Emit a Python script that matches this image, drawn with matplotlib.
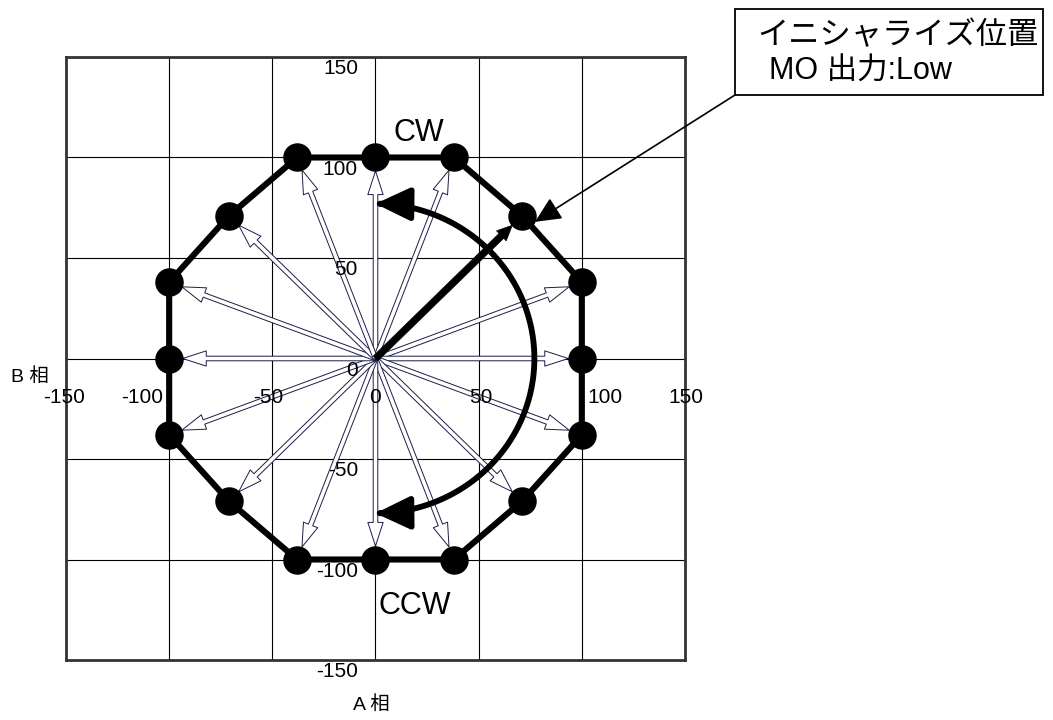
import numpy as np
import matplotlib.pyplot as plt
from matplotlib.patches import FancyArrowPatch, Rectangle
from matplotlib.path import Path

plt.rcParams['font.family'] = ['Liberation Sans', 'Noto Sans CJK JP', 'DejaVu Sans']

# ステップ位置 (A相, B相)
pos_a = [0, 38, 71, 100, 100, 100, 71, 38, 0, -38, -71, -100, -100, -100, -71, -38]
pos_b = [100, 100, 71, 38, 0, -38, -71, -100, -100, -100, -71, -38, 0, 38, 71, 100]
init_idx = 2            # イニシャライズ位置
ticks = [-150, -100, -50, 0, 50, 100, 150]
arc_r = 77

W, H = 1053, 720
fig = plt.figure(figsize=(W / 100, H / 100), dpi=100)
ax = fig.add_axes([66 / W, 1 - 660 / H, 619 / W, 603 / H])
ax.set_xlim(-150, 150)
ax.set_ylim(-150, 150)
ax.set_xticks([])
ax.set_yticks([])
for s in ax.spines.values():
    s.set_linewidth(2)
    s.set_color('#333333')

# グリッド
for t in ticks[1:-1]:
    ax.axvline(t, color='black', lw=0.8, zorder=1)
    ax.axhline(t, color='black', lw=0.8, zorder=1)

# 目盛ラベル (軸の交点付近に配置)
x_lab_pos = [-151, -113, -52, 0, 51, 111, 150.5]
for t, xp in zip(ticks, x_lab_pos):
    ax.text(xp, -19.5, str(t), fontsize=15, ha='center', va='center', zorder=6)
for t in ticks:
    yp = t - 1 if t < 150 else 149
    ax.text(-8.5, yp, str(t), fontsize=15, ha='right', va='top', zorder=6)

# 原点からの細い矢印
rad_pt = 9.7
for i, (a, b) in enumerate(zip(pos_a, pos_b)):
    if i == init_idx:
        continue
    arr = FancyArrowPatch((0, 0), (a, b), shrinkA=0, shrinkB=rad_pt,
                          arrowstyle='simple,head_length=17,head_width=11,tail_width=3.3',
                          mutation_scale=1, fc='white', ec='#1c1c48', lw=0.7, zorder=3)
    ax.add_patch(arr)

# 外周
ax.plot(pos_a + pos_a[:1], pos_b + pos_b[:1], color='black', lw=4.4, zorder=4,
        solid_joinstyle='miter')
ax.plot(pos_a, pos_b, linestyle='', marker='o', markersize=19.5, color='black', zorder=5)

# イニシャライズ位置への太い矢印
thick = FancyArrowPatch((0, 0), (pos_a[init_idx], pos_b[init_idx]), shrinkA=0, shrinkB=rad_pt,
                        arrowstyle='simple,head_length=11,head_width=10,tail_width=4.8',
                        mutation_scale=1, fc='black', ec='black', lw=0.5, zorder=6)
ax.add_patch(thick)

# CW / CCW の円弧矢印
th = np.linspace(np.pi / 2, -np.pi / 2, 120)
arc = FancyArrowPatch(path=Path(np.column_stack([arc_r * np.cos(th), arc_r * np.sin(th)])),
                      arrowstyle='<|-|>,head_length=21,head_width=10',
                      mutation_scale=1, color='black', lw=4.2, zorder=6)
ax.add_patch(arc)

ax.text(21, 112, 'CW', fontsize=22, ha='center', va='center', zorder=7)
ax.text(19, -123, 'CCW', fontsize=22, ha='center', va='center', zorder=7)

# 軸名
fig.text(30 / W, 1 - 377 / H, 'B 相', fontsize=14, ha='center', va='center')
fig.text(371 / W, 1 - 705 / H, 'A 相', fontsize=14, ha='center', va='center')

# 吹き出し
box = Rectangle((735 / W, 1 - 95 / H), 308 / W, 86 / H, transform=fig.transFigure,
                fill=False, ec='black', lw=1.3)
fig.add_artist(box)
fig.text(757 / W, 1 - 36 / H, 'イニシャライズ位置', fontsize=22.5, ha='left', va='center')
fig.text(769 / W, 1 - 72 / H, 'MO 出力:Low', fontsize=22, ha='left', va='center')
ax.annotate('', xy=(77.3, 68), xycoords='data',
            xytext=(735 / W, 1 - 95 / H), textcoords='figure fraction',
            arrowprops=dict(arrowstyle='-|>,head_length=1.6,head_width=0.75',
                            color='black', lw=1.2, shrinkA=0, shrinkB=0),
            annotation_clip=False, zorder=8)

plt.savefig('out.png', dpi=100)
